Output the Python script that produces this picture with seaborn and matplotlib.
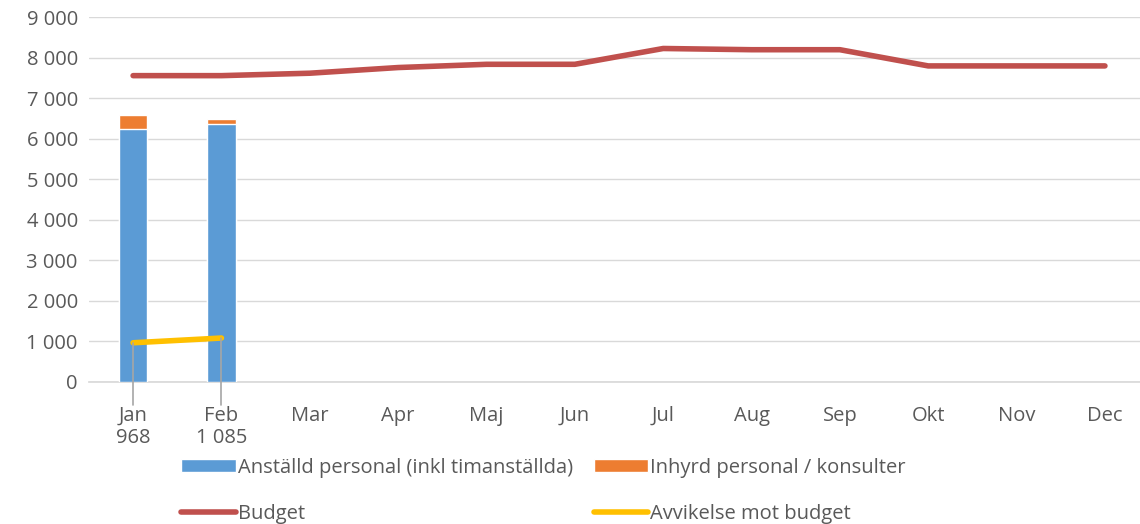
import numpy as np
import pandas as pd
import matplotlib.pyplot as plt
import seaborn as sns

months = ["Jan", "Feb", "Mar", "Apr", "Maj", "Jun", "Jul", "Aug", "Sep", "Okt", "Nov", "Dec"]
anstalld = [6240, 6360] + [np.nan] * 10
inhyrd = [340, 120] + [np.nan] * 10
budget = [7560, 7560, 7620, 7760, 7840, 7840, 8230, 8200, 8200, 7800, 7800, 7800]
avvikelse = [968, 1085] + [np.nan] * 10
avvikelse_labels = ["968", "1 085"]

BLUE = "#5b9bd5"
ORANGE = "#ed7d31"
RED = "#c0504d"
YELLOW = "#ffc000"
TEXT = "#595959"
FS = 14.5

sns.set_theme(style="white")
plt.rcParams["font.family"] = ["Open Sans", "DejaVu Sans"]

df = pd.DataFrame({"month": months, "anstalld": anstalld, "inhyrd": inhyrd,
                   "budget": budget, "avvikelse": avvikelse})
df["total"] = df["anstalld"] + df["inhyrd"]

fig, ax = plt.subplots(figsize=(11.4, 5.24), dpi=100)
fig.subplots_adjust(left=0.078, right=1.008, top=0.967, bottom=0.271)

sns.barplot(data=df, x="month", y="total", color=ORANGE, width=0.32, ax=ax,
            saturation=1, label="Inhyrd personal / konsulter", zorder=2)
sns.barplot(data=df, x="month", y="anstalld", color=BLUE, width=0.32, ax=ax,
            saturation=1, label="Anställd personal (inkl timanställda)", zorder=3)

x = np.arange(len(months))
ax.plot(x, df["budget"], color=RED, lw=4, solid_capstyle="round", label="Budget", zorder=4)
ax.plot(x, df["avvikelse"], color=YELLOW, lw=4, solid_capstyle="round",
        label="Avvikelse mot budget", zorder=4)

# dataetiketter under x-axeln med hänvisningslinjer
for i, (v, lab) in enumerate(zip(avvikelse[:2], avvikelse_labels)):
    ax.plot([i, i], [v, -580], color="#a6a6a6", lw=1.2, clip_on=False, zorder=5)
    ax.text(i, -1380, lab, ha="center", va="center", fontsize=FS, color=TEXT,
            clip_on=False)

ax.set_ylim(0, 9000)
ax.set_xlim(-0.5, 11.5)
ax.set_yticks(range(0, 9001, 1000))
ax.set_yticklabels([f"{v:,}".replace(",", " ") for v in range(0, 9001, 1000)])
ax.yaxis.grid(True, color="#d9d9d9", lw=1)
ax.set_axisbelow(True)
for s in ["top", "right", "left"]:
    ax.spines[s].set_visible(False)
ax.spines["bottom"].set_color("#d9d9d9")
ax.tick_params(axis="both", length=0, labelsize=FS, colors=TEXT, pad=8)
ax.tick_params(axis="x", pad=17)
ax.set_xlabel("")
ax.set_ylabel("")

handles, labels = ax.get_legend_handles_labels()
if ax.get_legend() is not None:
    ax.get_legend().remove()
hmap = dict(zip(labels, handles))
# kolumnvis ordning -> rad 1: Anställd, Inhyrd; rad 2: Budget, Avvikelse
order = ["Anställd personal (inkl timanställda)", "Budget",
         "Inhyrd personal / konsulter", "Avvikelse mot budget"]
fig.legend([hmap[k] for k in order], order, loc="lower left",
           bbox_to_anchor=(0.143, -0.034), ncol=2, frameon=False, fontsize=FS,
           labelcolor=TEXT, handlelength=2.7, handleheight=0.6, handletextpad=0.1,
           columnspacing=1.05, labelspacing=1.3, borderpad=0.4)

fig.savefig("out.png", dpi=100)
